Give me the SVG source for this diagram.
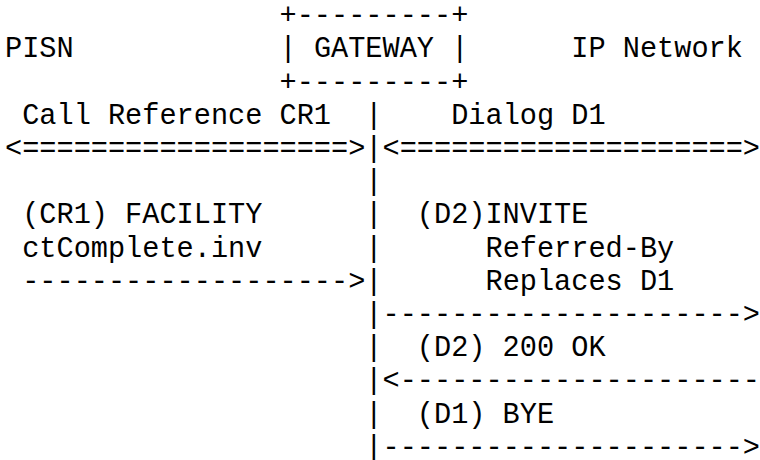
<svg xmlns="http://www.w3.org/2000/svg" width="760" height="460" viewBox="0 0 760 460">
<style>
text{font-family:"Courier New","Courier","Nimbus Mono PS","Nimbus Mono L","FreeMono","Liberation Mono",monospace;font-size:28.6px;fill:#000;white-space:pre}
</style>
<rect width="760" height="460" fill="#fff"/>
<g id="gateway">
<text x="279.56" y="24.1">+---------+</text>
<text x="279.56" y="57.3">|</text>
<text x="313.88" y="57.3">GATEWAY</text>
<text x="451.16" y="57.3">|</text>
<text x="279.56" y="90.5">+---------+</text>
</g>
<g id="pisn"><text x="5" y="57.3">PISN</text></g>
<g id="ipnetwork"><text x="571.28" y="57.3">IP Network</text></g>
<g id="lifeline">
<text x="365.36" y="123.7">|</text>
<text x="365.36" y="156.9">|</text>
<text x="365.36" y="190.1">|</text>
<text x="365.36" y="223.3">|</text>
<text x="365.36" y="256.5">|</text>
<text x="365.36" y="289.7">|</text>
<text x="365.36" y="322.9">|</text>
<text x="365.36" y="356.1">|</text>
<text x="365.36" y="389.3">|</text>
<text x="365.36" y="422.5">|</text>
<text x="365.36" y="455.7">|</text>
</g>
<g id="labels">
<text x="22.16" y="123.7">Call Reference CR1</text>
<text x="451.16" y="123.7">Dialog D1</text>
<text x="22.16" y="223.3">(CR1) FACILITY</text>
<text x="22.16" y="256.5">ctComplete.inv</text>
<text x="416.84" y="223.3">(D2)INVITE</text>
<text x="485.48" y="256.5">Referred-By</text>
<text x="485.48" y="289.7">Replaces D1</text>
<text x="416.84" y="356.1">(D2) 200 OK</text>
<text x="416.84" y="422.5">(D1) BYE</text>
</g>
<g id="connectors">
<text x="5" y="156.9">&lt;===================&gt;</text>
<text x="382.52" y="156.9">&lt;====================&gt;</text>
<text x="22.16" y="289.7">-------------------&gt;</text>
<text x="382.52" y="322.9">---------------------&gt;</text>
<text x="382.52" y="389.3">&lt;---------------------</text>
<text x="382.52" y="455.7">---------------------&gt;</text>
</g>
</svg>
